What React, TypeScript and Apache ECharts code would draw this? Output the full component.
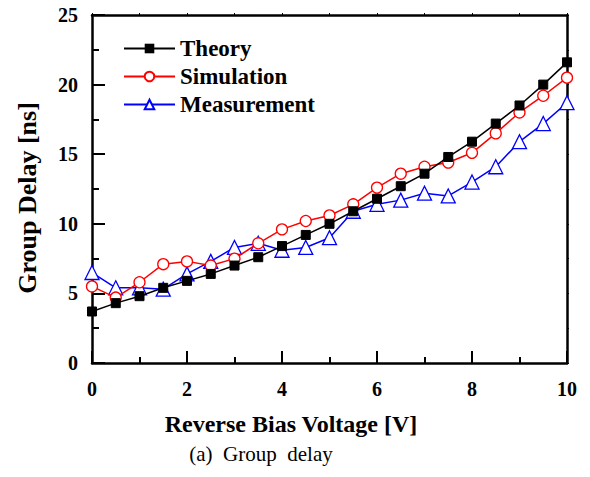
import React, { useEffect, useRef } from "react";
import * as echarts from "echarts";

const voltages = [0, 0.5, 1, 1.5, 2, 2.5, 3, 3.5, 4, 4.5, 5, 5.5, 6, 6.5, 7, 7.5, 8, 8.5, 9, 9.5, 10];
const theory = [3.7, 4.3, 4.8, 5.4, 5.9, 6.4, 7.0, 7.6, 8.4, 9.2, 10.0, 10.9, 11.8, 12.7, 13.6, 14.8, 15.9, 17.2, 18.5, 20.0, 21.6];
const simulation = [5.5, 4.7, 5.8, 7.1, 7.3, 7.0, 7.5, 8.6, 9.6, 10.2, 10.6, 11.4, 12.6, 13.6, 14.1, 14.4, 15.1, 16.5, 18.0, 19.2, 20.5];
const measurement = [6.5, 5.4, 5.4, 5.3, 6.4, 7.3, 8.3, 8.6, 8.1, 8.3, 9.0, 10.9, 11.4, 11.7, 12.2, 12.0, 13.0, 14.1, 15.9, 17.2, 18.7];
const seriesNames = ["Theory", "Simulation", "Measurement"];
const xTitle = "Reverse Bias Voltage [V]";
const yTitle = "Group Delay [ns]";
const caption = "(a)  Group  delay";

const FONT = "Liberation Serif";

export default function App() {
  const ref = useRef<HTMLDivElement>(null);
  useEffect(() => {
    if (!ref.current) return;
    const chart = echarts.init(ref.current, null, { renderer: "svg" });
    const pair = (ys: number[]) => voltages.map((v, i) => [v, ys[i]]);
    chart.setOption({
      animation: false,
      backgroundColor: "#fff",
      grid: { left: 92, right: 23, top: 15, bottom: 114 },
      legend: {
        left: 118,
        top: 32,
        orient: "vertical",
        itemWidth: 51,
        itemHeight: 12,
        itemGap: 5,
        textStyle: { fontFamily: FONT, fontWeight: "bold", fontSize: 23, color: "#000" },
        data: seriesNames,
      },
      xAxis: [
        {
          type: "value",
          min: 0,
          max: 10,
          interval: 2,
          position: "bottom",
          axisLine: { onZero: false, lineStyle: { color: "#000", width: 2.5 } },
          axisTick: { inside: true, length: 12, lineStyle: { color: "#000", width: 2 } },
          minorTick: { show: true, splitNumber: 2, length: 6, lineStyle: { color: "#000", width: 2 } },
          axisLabel: { fontFamily: FONT, fontWeight: "bold", fontSize: 20, color: "#000", margin: 16 },
          splitLine: { show: false },
        },
        {
          type: "value",
          min: 0,
          max: 10,
          interval: 1,
          position: "top",
          axisLine: { onZero: false, lineStyle: { color: "#000", width: 2.5 } },
          axisTick: { inside: false, length: 2, lineStyle: { color: "#000", width: 1 } },
          axisLabel: { show: false },
          splitLine: { show: false },
        },
      ],
      yAxis: [
        {
          type: "value",
          min: 0,
          max: 25,
          interval: 5,
          position: "left",
          axisLine: { onZero: false, lineStyle: { color: "#000", width: 2.5 } },
          axisTick: { inside: true, length: 13, lineStyle: { color: "#000", width: 2 } },
          minorTick: { show: true, splitNumber: 2, length: 7, lineStyle: { color: "#000", width: 2 } },
          axisLabel: { fontFamily: FONT, fontWeight: "bold", fontSize: 20, color: "#000", margin: 14 },
          splitLine: { show: false },
        },
        {
          type: "value",
          min: 0,
          max: 25,
          interval: 2.5,
          position: "right",
          axisLine: { onZero: false, lineStyle: { color: "#000", width: 2.5 } },
          axisTick: { inside: false, length: 2, lineStyle: { color: "#000", width: 1 } },
          axisLabel: { show: false },
          splitLine: { show: false },
        },
      ],
      graphic: [
        {
          type: "text",
          x: 291,
          y: 424,
          style: {
            text: xTitle,
            font: `bold 24px "${FONT}"`,
            fill: "#000",
            textAlign: "center",
            textVerticalAlign: "middle",
          },
        },
        {
          type: "text",
          x: 27,
          y: 198,
          rotation: Math.PI / 2,
          style: {
            text: yTitle,
            font: `bold 26px "${FONT}"`,
            fill: "#000",
            textAlign: "center",
            textVerticalAlign: "middle",
          },
        },
        {
          type: "text",
          x: 261,
          y: 454,
          style: {
            text: caption,
            font: `21px "${FONT}"`,
            fill: "#000",
            textAlign: "center",
            textVerticalAlign: "middle",
          },
        },
      ],
      series: [
        {
          name: "Theory",
          type: "line",
          data: pair(theory),
          symbol: "rect",
          symbolSize: 9,
          lineStyle: { color: "#000", width: 1.5 },
          itemStyle: { color: "#000", borderColor: "#000" },
          z: 3,
        },
        {
          name: "Simulation",
          type: "line",
          data: pair(simulation),
          symbol: "circle",
          symbolSize: 11,
          lineStyle: { color: "#ff0000", width: 1.5 },
          itemStyle: { color: "#fff", borderColor: "#ff0000", borderWidth: 1.3 },
          z: 2,
        },
        {
          name: "Measurement",
          type: "line",
          data: pair(measurement),
          symbol: "triangle",
          symbolSize: 14,
          lineStyle: { color: "#0000ff", width: 1.5 },
          itemStyle: { color: "#fff", borderColor: "#0000ff", borderWidth: 1.3 },
          z: 1,
        },
      ],
    });
    return () => chart.dispose();
  }, []);
  return <div ref={ref} style={{ width: 590, height: 477, position: "absolute", left: 0, top: 0 }} />;
}
